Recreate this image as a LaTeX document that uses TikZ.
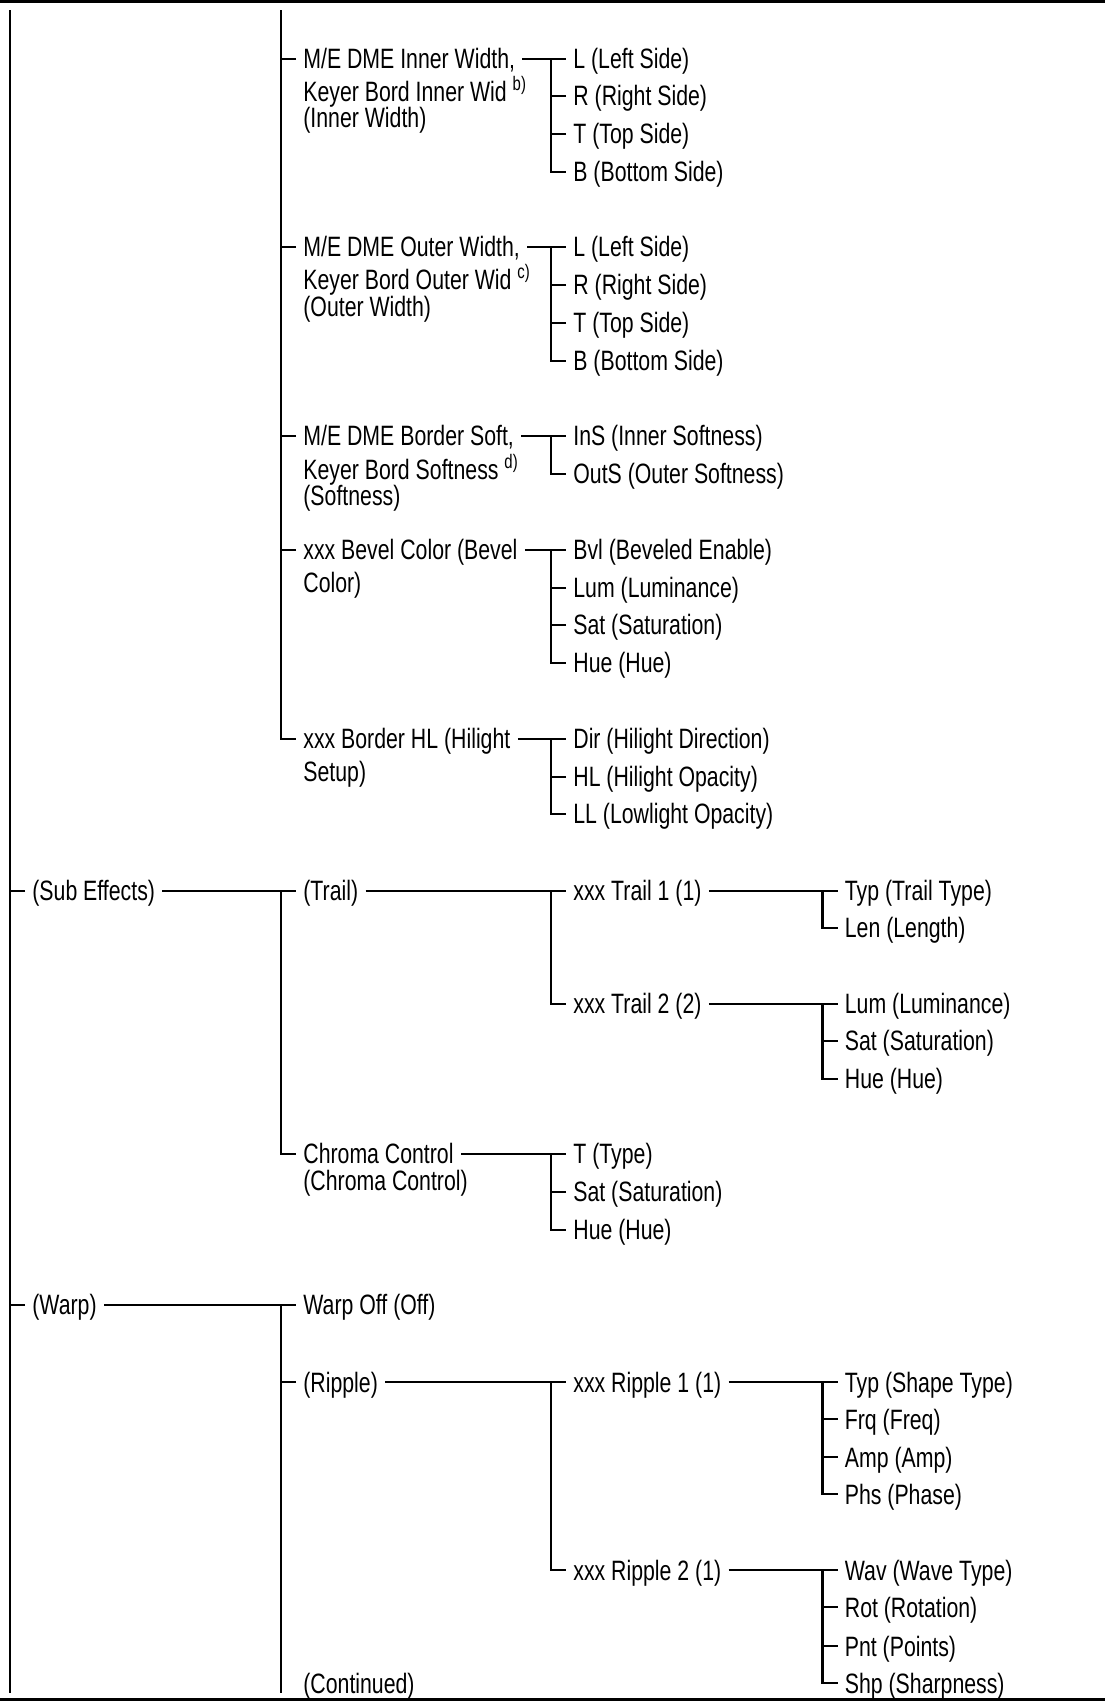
\documentclass[tikz,border=0pt]{standalone}
\usepackage{fontspec}
\setmainfont{Liberation Sans}[FakeStretch=0.76]
\usepackage{tikz}

\begin{document}
\begin{tikzpicture}[x=0.5pt,y=-0.5pt]

    \tikzset{
      item/.style={
        anchor=west,
        inner xsep=3.5pt,
        inner ysep=0pt,
        text height=10pt,
        text depth=0pt,
        font=\fontsize{14}{16}\selectfont,
      },
      wire/.style={line width=1.1pt},
      rule/.style={line width=1.5pt},
    }
    \useasboundingbox (0,0) rectangle (1105,1704);
    \draw[rule] (0,1.5)--(1105,1.5);
    \draw[rule] (0,1699)--(1105,1699);

    \coordinate (topA) at (9.6,10);
    \coordinate (botA) at (9.6,1693);
    \coordinate (topB) at (281,10);
    \coordinate (botB) at (281,1693);

	\node[item] (inw1) at (296,58.7) {M/E DME Inner Width,};
	\node[item] (inw2) at (296,91.3) {Keyer Bord Inner Wid \textsuperscript{b)}};
	\node[item] (inw3) at (296,117.3) {(Inner Width)};
	\node[item] (inwL) at (566,58.7) {L (Left Side)};
	\node[item] (inwR) at (566,95.6) {R (Right Side)};
	\node[item] (inwT) at (566,133.6) {T (Top Side)};
	\node[item] (inwB) at (566,171.7) {B (Bottom Side)};

	\node[item] (outw1) at (296,246.6) {M/E DME Outer Width,};
	\node[item] (outw2) at (296,279.2) {Keyer Bord Outer Wid \textsuperscript{c)}};
	\node[item] (outw3) at (296,306.4) {(Outer Width)};
	\node[item] (outwL) at (566,246.6) {L (Left Side)};
	\node[item] (outwR) at (566,284.7) {R (Right Side)};
	\node[item] (outwT) at (566,322.7) {T (Top Side)};
	\node[item] (outwB) at (566,360.7) {B (Bottom Side)};

	\node[item] (soft1) at (296,435.7) {M/E DME Border Soft,};
	\node[item] (soft2) at (296,469.4) {Keyer Bord Softness \textsuperscript{d)}};
	\node[item] (soft3) at (296,495.4) {(Softness)};
	\node[item] (ins) at (566,435.7) {InS (Inner Softness)};
	\node[item] (outs) at (566,473.7) {OutS (Outer Softness)};

	\node[item] (bev1) at (296,549.8) {xxx Bevel Color (Bevel};
	\node[item] (bev2) at (296,582.4) {Color)};
	\node[item] (bvl) at (566,549.8) {Bvl (Beveled Enable)};
	\node[item] (bevlum) at (566,587.8) {Lum (Luminance)};
	\node[item] (bevsat) at (566,624.7) {Sat (Saturation)};
	\node[item] (bevhue) at (566,662.8) {Hue (Hue)};

	\node[item] (hl1) at (296,738.8) {xxx Border HL (Hilight};
	\node[item] (hl2) at (296,771.4) {Setup)};
	\node[item] (hldir) at (566,738.8) {Dir (Hilight Direction)};
	\node[item] (hlop) at (566,776.8) {HL (Hilight Opacity)};
	\node[item] (llop) at (566,813.8) {LL (Lowlight Opacity)};

	\node[item] (subfx) at (25,890.9) {(Sub Effects)};
	\node[item] (trail) at (296,890.9) {(Trail)};
	\node[item] (trail1) at (566,890.9) {xxx Trail 1 (1)};
	\node[item] (trtyp) at (837.5,890.9) {Typ (Trail Type)};
	\node[item] (trlen) at (837.5,927.9) {Len (Length)};
	\node[item] (trail2) at (566,1003.9) {xxx Trail 2 (2)};
	\node[item] (trlum) at (837.5,1003.9) {Lum (Luminance)};
	\node[item] (trsat) at (837.5,1040.9) {Sat (Saturation)};
	\node[item] (trhue) at (837.5,1078.9) {Hue (Hue)};
	\node[item] (chroma1) at (296,1153.9) {Chroma Control};
	\node[item] (chroma2) at (296,1180) {(Chroma Control)};
	\node[item] (chrT) at (566,1153.9) {T (Type)};
	\node[item] (chrsat) at (566,1191.9) {Sat (Saturation)};
	\node[item] (chrhue) at (566,1229.9) {Hue (Hue)};

	\node[item] (warp) at (25,1304.9) {(Warp)};
	\node[item] (warpoff) at (296,1304.9) {Warp Off (Off)};
	\node[item] (ripple) at (296,1382) {(Ripple)};
	\node[item] (ripple1) at (566,1382) {xxx Ripple 1 (1)};
	\node[item] (rptyp) at (837.5,1382) {Typ (Shape Type)};
	\node[item] (rpfrq) at (837.5,1419) {Frq (Freq)};
	\node[item] (rpamp) at (837.5,1457) {Amp (Amp)};
	\node[item] (rpphs) at (837.5,1494) {Phs (Phase)};
	\node[item] (ripple2) at (566,1570) {xxx Ripple 2 (1)};
	\node[item] (rpwav) at (837.5,1570) {Wav (Wave Type)};
	\node[item] (rprot) at (837.5,1607) {Rot (Rotation)};
	\node[item] (rppnt) at (837.5,1646) {Pnt (Points)};
	\node[item] (rpshp) at (837.5,1683) {Shp (Sharpness)};
	\node[item] (contd) at (296,1683) {(Continued)};

	\draw[wire] (topA)--(botA);
	\foreach \n in {subfx,warp} \draw[wire] (\n.west)--++(-15,0);
	\draw[wire] (topB) |- (hl1.west);
	\foreach \n in {inw1,outw1,soft1,bev1} \draw[wire] (\n.west)--++(-15,0);

	\draw[wire] (inw1.east)--(inwL.west);
	\draw[wire] (inwL.west) ++(-15,0) |- (inwB.west);
	\foreach \n in {inwR,inwT} \draw[wire] (\n.west)--++(-15,0);
	\draw[wire] (outw1.east)--(outwL.west);
	\draw[wire] (outwL.west) ++(-15,0) |- (outwB.west);
	\foreach \n in {outwR,outwT} \draw[wire] (\n.west)--++(-15,0);
	\draw[wire] (soft1.east)--(ins.west);
	\draw[wire] (ins.west) ++(-15,0) |- (outs.west);
	\draw[wire] (bev1.east)--(bvl.west);
	\draw[wire] (bvl.west) ++(-15,0) |- (bevhue.west);
	\foreach \n in {bevlum,bevsat} \draw[wire] (\n.west)--++(-15,0);
	\draw[wire] (hl1.east)--(hldir.west);
	\draw[wire] (hldir.west) ++(-15,0) |- (llop.west);
	\draw[wire] (hlop.west)--++(-15,0);

	\draw[wire] (subfx.east)--(trail.west);
	\draw[wire] (trail.west) ++(-15,0) |- (chroma1.west);
	\draw[wire] (trail.east)--(trail1.west);
	\draw[wire] (trail1.west) ++(-15,0) |- (trail2.west);
	\draw[wire] (trail1.east)--(trtyp.west);
	\draw[wire] (trtyp.west) ++(-15,0) |- (trlen.west);
	\draw[wire] (trail2.east)--(trlum.west);
	\draw[wire] (trlum.west) ++(-15,0) |- (trhue.west);
	\draw[wire] (trsat.west)--++(-15,0);
	\draw[wire] (chroma1.east)--(chrT.west);
	\draw[wire] (chrT.west) ++(-15,0) |- (chrhue.west);
	\draw[wire] (chrsat.west)--++(-15,0);

	\draw[wire] (warp.east)--(warpoff.west);
	\draw[wire] (warpoff.west) ++(-15,0)--(botB);
	\draw[wire] (ripple.west)--++(-15,0);
	\draw[wire] (ripple.east)--(ripple1.west);
	\draw[wire] (ripple1.west) ++(-15,0) |- (ripple2.west);
	\draw[wire] (ripple1.east)--(rptyp.west);
	\draw[wire] (rptyp.west) ++(-15,0) |- (rpphs.west);
	\foreach \n in {rpfrq,rpamp} \draw[wire] (\n.west)--++(-15,0);
	\draw[wire] (ripple2.east)--(rpwav.west);
	\draw[wire] (rpwav.west) ++(-15,0) |- (rpshp.west);
	\foreach \n in {rprot,rppnt} \draw[wire] (\n.west)--++(-15,0);

\end{tikzpicture}
\end{document}
